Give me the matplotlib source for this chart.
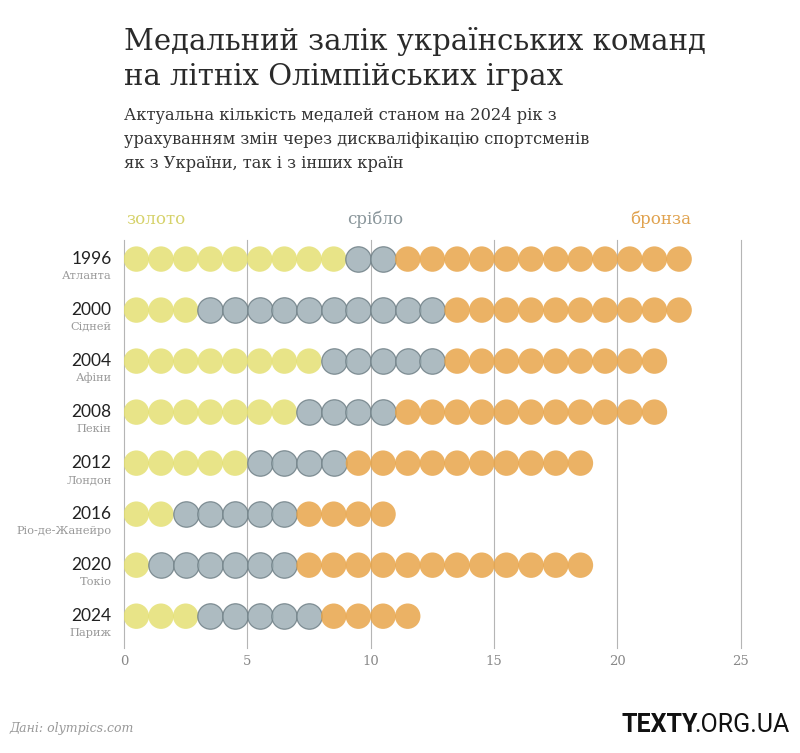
import matplotlib
matplotlib.use("Agg")
import matplotlib.pyplot as plt

years = ["1996", "2000", "2004", "2008", "2012", "2016", "2020", "2024"]
cities = ["Атланта", "Сідней", "Афіни", "Пекін", "Лондон", "Ріо-де-Жанейро", "Токіо", "Париж"]
gold = [9, 3, 8, 7, 5, 2, 1, 3]
silver = [2, 10, 5, 4, 4, 5, 6, 5]
bronze = [12, 10, 9, 11, 10, 4, 12, 4]
xticks = [0, 5, 10, 15, 20, 25]

C_GOLD = "#e3df6e"
C_SILVER = "#9fb0b6"
C_SILVER_EDGE = "#6f7f86"
C_BRONZE = "#e8a54a"

fig = plt.figure(figsize=(8.0, 7.53), dpi=100)
ax = fig.add_axes([0.155, 0.139, 0.771, 0.542])

for i in range(len(years)):
    g, s, b = gold[i], silver[i], bronze[i]
    gx = [k + 0.5 for k in range(g)]
    sx = [g + k + 0.5 for k in range(s)]
    bx = [g + s + k + 0.5 for k in range(b)]
    ax.scatter(gx, [i] * len(gx), s=335, color=C_GOLD, alpha=0.82, edgecolors="none", zorder=3)
    ax.scatter(sx, [i] * len(sx), s=335, color=C_SILVER, alpha=0.85, edgecolors=C_SILVER_EDGE,
               linewidths=0.9, zorder=3)
    ax.scatter(bx, [i] * len(bx), s=335, color=C_BRONZE, alpha=0.85, edgecolors="none", zorder=3)
    ax.text(-0.5, i, years[i], ha="right", va="center", fontsize=12.5,
            family=["Lato", "DejaVu Sans"], color="#222222")
    ax.text(-0.5, i + 0.33, cities[i], ha="right", va="center", fontsize=8.2,
            family="DejaVu Serif", color="#999999")

ax.set_xlim(0, 25)
ax.set_ylim(7.63, -0.37)
ax.set_xticks(xticks)
ax.set_xticklabels([str(t) for t in xticks], family="DejaVu Serif", fontsize=9.5, color="#888888")
ax.set_yticks([])
for t in xticks:
    ax.axvline(t, color="#b5b5b5", lw=0.8, zorder=1, clip_on=False)
for sp in ax.spines.values():
    sp.set_visible(False)
ax.tick_params(axis="x", length=0, pad=5)

ax.text(0.1, -0.78, "золото", ha="left", va="center", fontsize=12, family="DejaVu Serif", color="#d6d26a")
ax.text(10.2, -0.78, "срібло", ha="center", va="center", fontsize=12, family="DejaVu Serif", color="#8a969b")
ax.text(23.0, -0.78, "бронза", ha="right", va="center", fontsize=12, family="DejaVu Serif", color="#e0a24e")

fig.text(0.155, 0.945, "Медальний залік українських команд", fontsize=21, family="DejaVu Serif",
         color="#2a2a2a", ha="left", va="center")
fig.text(0.155, 0.898, "на літніх Олімпійських іграх", fontsize=21, family="DejaVu Serif",
         color="#2a2a2a", ha="left", va="center")
sub = ["Актуальна кількість медалей станом на 2024 рік з",
       "урахуванням змін через дискваліфікацію спортсменів",
       "як з України, так і з інших країн"]
for k, line in enumerate(sub):
    fig.text(0.155, 0.847 - k * 0.032, line, fontsize=11.7, family="DejaVu Serif",
             color="#333333", ha="left", va="center")

fig.text(0.012, 0.033, "Дані: olympics.com", fontsize=9, family="DejaVu Serif", style="italic",
         color="#999999", ha="left", va="center")
t1 = fig.text(0.987, 0.037, ".ORG.UA", fontsize=18, family="Roboto",
              weight="normal", color="#111111", ha="right", va="center")
fig.canvas.draw()
bb = t1.get_window_extent()
x0 = (bb.x0 + 4) / fig.bbox.width
fig.text(x0, 0.037, "TEXTY", fontsize=18, family="Roboto",
         weight="bold", color="#111111", ha="right", va="center")

fig.savefig("out.png", dpi=100, facecolor="white")
